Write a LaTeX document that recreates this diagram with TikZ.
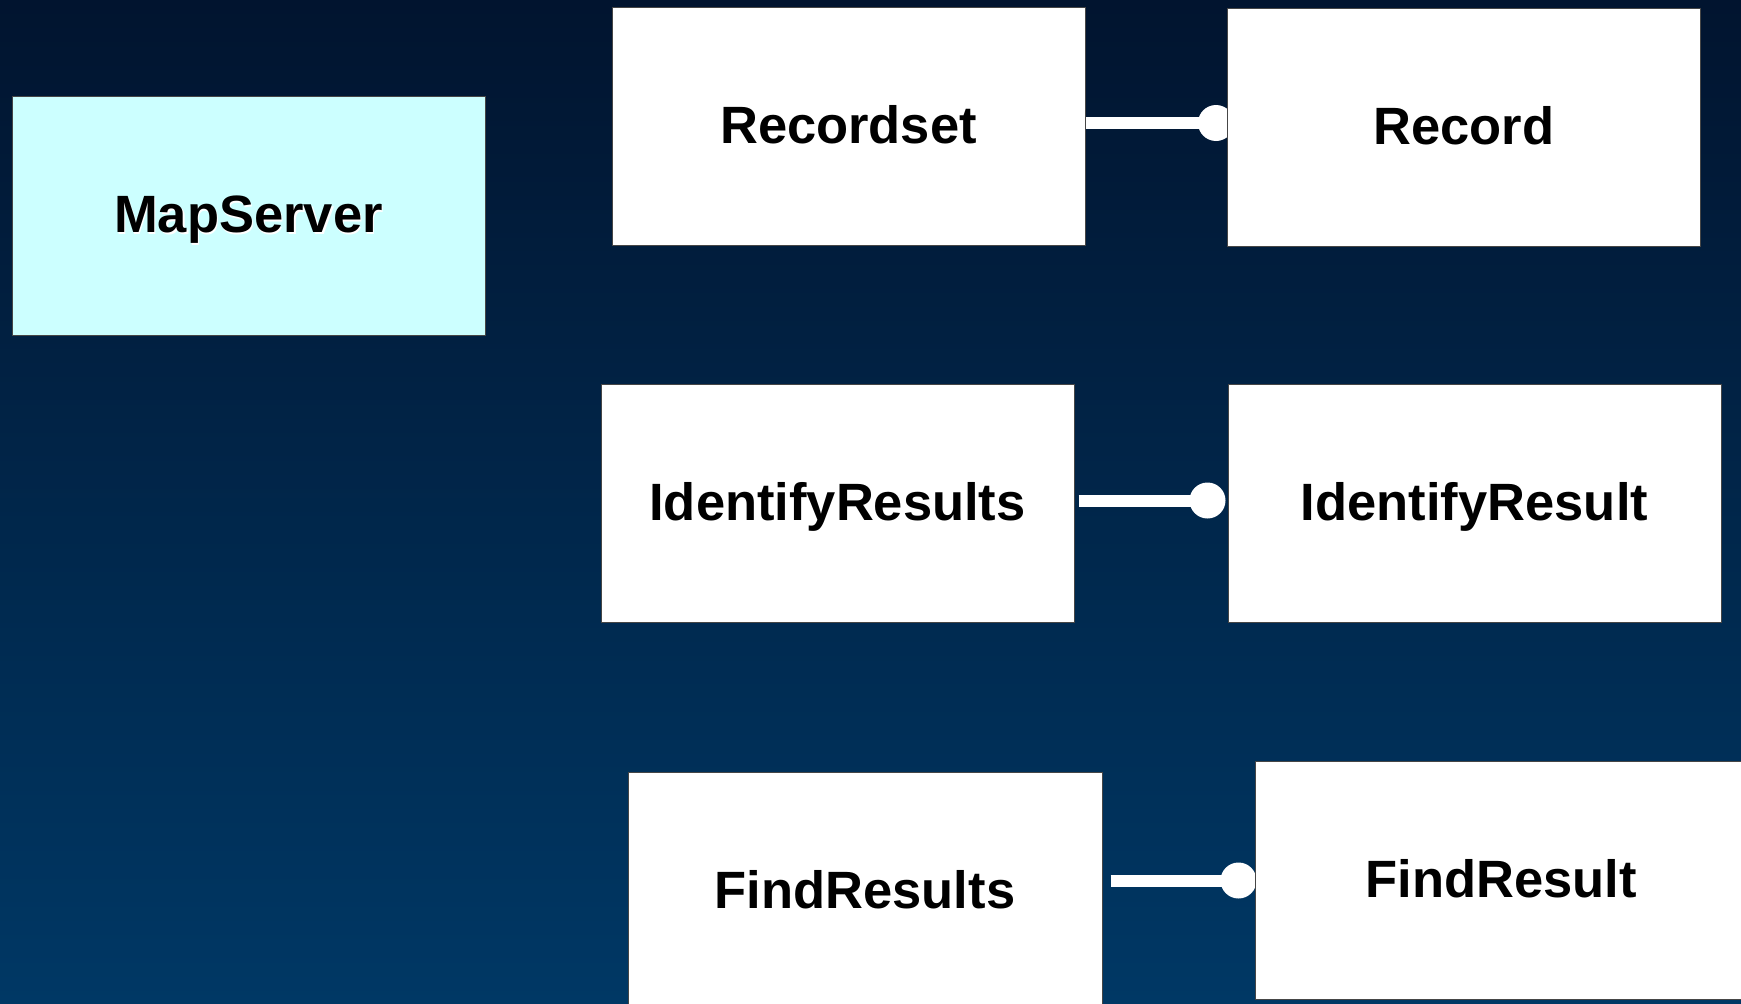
\documentclass[tikz,border=0pt]{standalone}
\usepackage{fontspec}
\setmainfont{Liberation Sans}
\pgfdeclarelayer{back}
\pgfdeclarelayer{links}
\pgfsetlayers{back,links,main}
\definecolor{skytop}{RGB}{1,20,47}
\definecolor{skybot}{RGB}{0,56,101}
\definecolor{serverfill}{RGB}{204,255,255}
\definecolor{edgegray}{RGB}{70,70,70}
\tikzset{
  boxtext/.style={font=\fontsize{52.5}{60}\selectfont\bfseries, text=black,
    text height=36pt, text depth=2pt, inner sep=0pt},
  classbox/.style={boxtext, rectangle, fill=white, draw=edgegray, line width=1pt,
    minimum height=238pt},
  link/.style={draw=white, line width=12pt},
  joint/.style={circle, fill=white, minimum size=36pt, inner sep=0pt}
}
\begin{document}
\begin{tikzpicture}[x=1pt, y=-1pt]
\useasboundingbox (0,0) rectangle (1741,1004);
\begin{pgfonlayer}{back}
  \shade[top color=skytop, bottom color=skybot] (0,0) rectangle (1741,1004);
\end{pgfonlayer}

% class boxes
\node[classbox, fill=serverfill, minimum width=473pt, minimum height=239pt] (ms) at (248.5,215.5)
  {\rlap{\kern1.6pt\raisebox{-1.6pt}{\color{white}MapServer}}MapServer};
\node[classbox, minimum width=473pt] (rs) at (848.5,126) {Recordset};
\node[classbox, minimum width=473pt] (r) at (1464,127) {Record};
\node[classbox, minimum width=473pt] (ir) at (837.5,503) {IdentifyResults};
\node[classbox, minimum width=493pt] (ir2) at (1474.5,503) {IdentifyResult};
\node[classbox, minimum width=474pt] (fr) at (865,891) {FindResults};
\node[classbox, minimum width=492pt] (fr2) at (1501,880) {FindResult};

% aggregation links ending in a dot
\begin{pgfonlayer}{links}
  \draw[link] ([yshift=3pt]rs.east) -- ([xshift=-11pt, yshift=4pt]r.west)
    node[joint] (d1) {};
  \draw[link] ([xshift=4pt, yshift=2.5pt]ir.east) -- ([xshift=-20pt, yshift=2.5pt]ir2.west)
    node[joint] (d2) {};
  \draw[link] ([xshift=8pt, yshift=10.5pt]fr.east) -- ([xshift=-16pt, yshift=-0.5pt]fr2.west)
    node[joint] (d3) {};
\end{pgfonlayer}
\end{tikzpicture}
\end{document}
